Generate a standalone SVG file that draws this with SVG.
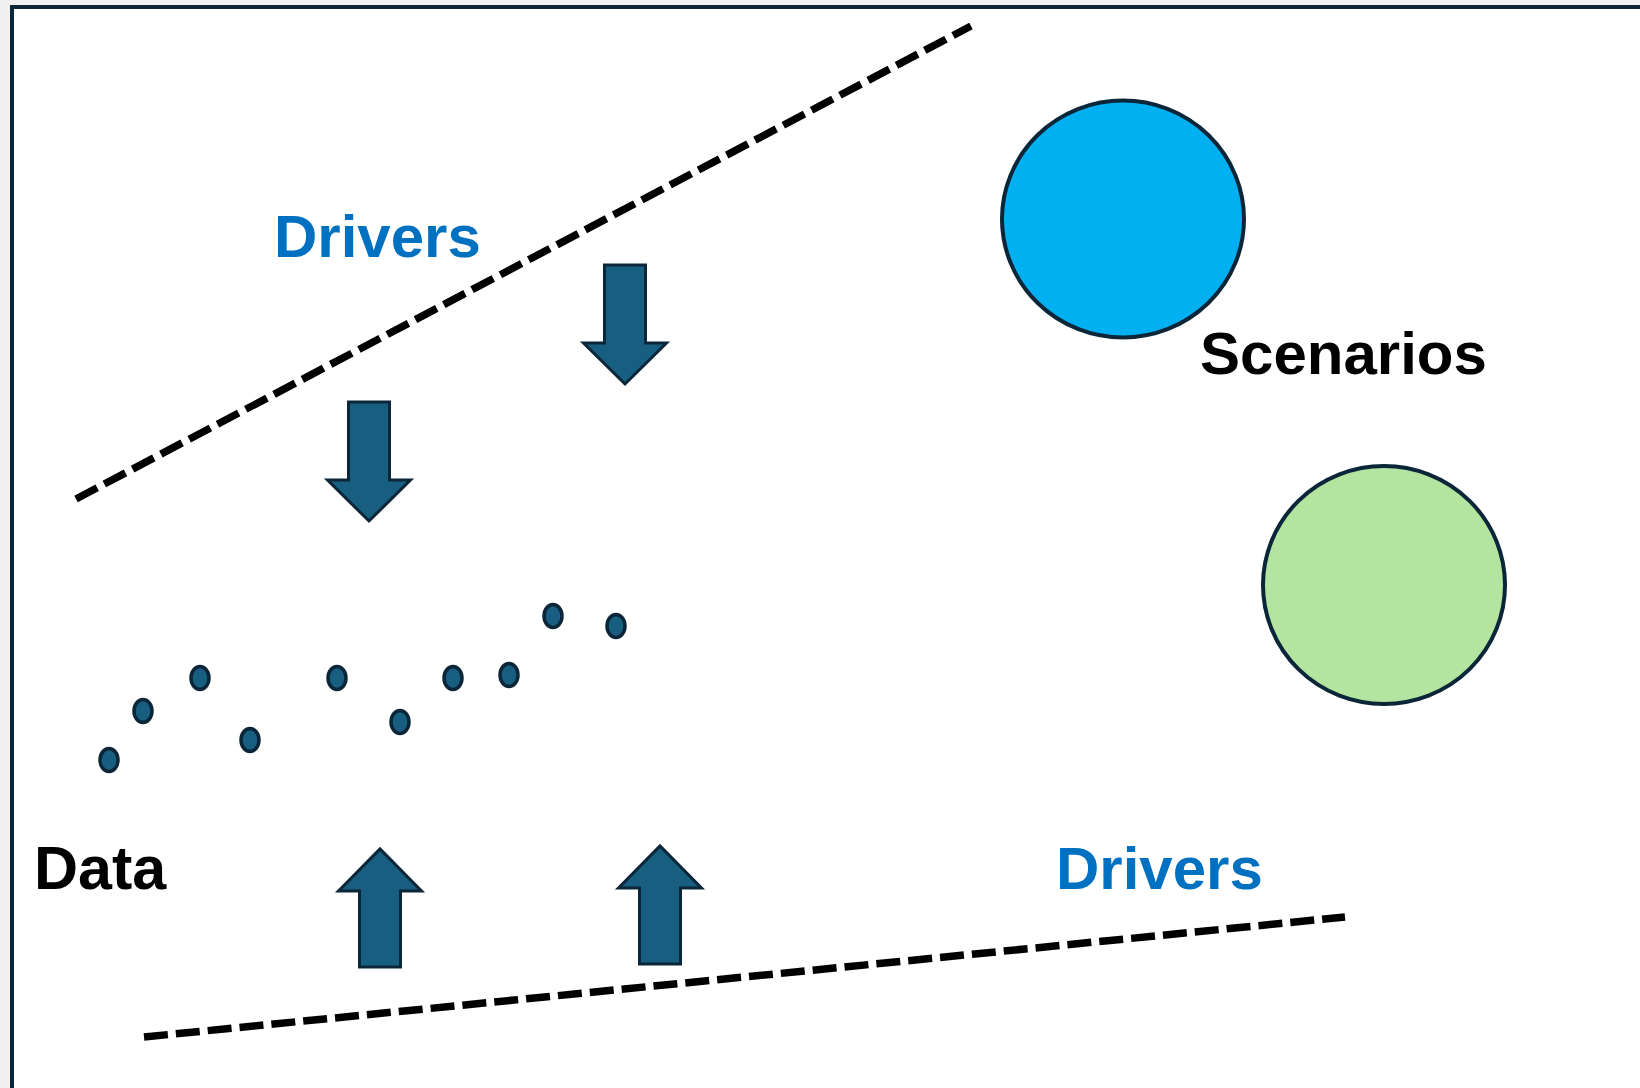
<svg xmlns="http://www.w3.org/2000/svg" width="1640" height="1088" viewBox="0 0 1640 1088">
  <style>
    .label { font-family: "Liberation Sans", Arial, sans-serif; font-weight: bold; font-size: 60px; }
    .drivers { fill: #0070C0; }
    .dark { fill: #000000; }
    .guide { fill: none; stroke: #000000; stroke-width: 7.5; stroke-dasharray: 24 8; }
    .arrow { fill: #175E80; stroke: #0B2638; stroke-width: 3; stroke-linejoin: miter; }
    .dot { fill: #175E80; stroke: #0B2638; stroke-width: 3.5; }
    .scenario { stroke: #0B2638; stroke-width: 4; }
  </style>
  <defs>
    <!-- block arrow pointing down, origin at shaft top centre -->
    <path id="downArrow" d="M -20.5 0 H 20.5 V 78 H 41.5 L 0 119 L -41.5 78 H -20.5 Z"/>
    <!-- block arrow pointing up, origin at shaft bottom centre -->
    <path id="upArrow" d="M -20.5 0 H 20.5 V -76 H 41.5 L 0 -118 L -41.5 -76 H -20.5 Z"/>
  </defs>

  <!-- page background and frame -->
  <rect x="0" y="0" width="1640" height="1088" fill="#F0F0F0"/>
  <rect x="12" y="7" width="1660" height="1120" fill="#FFFFFF" stroke="#0B2638" stroke-width="4"/>

  <!-- dashed boundary lines -->
  <g id="connectors">
    <line class="guide" x1="76" y1="499" x2="971" y2="26"/>
    <line class="guide" x1="144" y1="1037" x2="1345" y2="917"/>
  </g>

  <!-- labels -->
  <g id="label-drivers-top"><text class="label drivers" x="274" y="257">Drivers</text></g>
  <g id="label-drivers-bottom"><text class="label drivers" x="1056" y="889">Drivers</text></g>
  <g id="label-scenarios"><text class="label dark" x="1200" y="374">Scenarios</text></g>
  <g id="label-data"><text class="label dark" x="34" y="889" style="font-size:61px">Data</text></g>

  <!-- scenario circles -->
  <g id="scenario-blue"><ellipse class="scenario" cx="1123" cy="219" rx="121" ry="118.5" fill="#00B0F0"/></g>
  <g id="scenario-green"><ellipse class="scenario" cx="1384" cy="585" rx="121" ry="119" fill="#B3E5A1"/></g>

  <!-- driver arrows -->
  <g id="arrow-down-right"><use href="#downArrow" class="arrow" x="625" y="265"/></g>
  <g id="arrow-down-left"><use href="#downArrow" class="arrow" x="369" y="402"/></g>
  <g id="arrow-up-left"><use href="#upArrow" class="arrow" x="380" y="967"/></g>
  <g id="arrow-up-right"><use href="#upArrow" class="arrow" x="660" y="964"/></g>

  <!-- data points -->
  <g id="data-points">
    <ellipse class="dot" cx="109" cy="760" rx="9" ry="11.5"/>
    <ellipse class="dot" cx="143" cy="711" rx="9" ry="11.5"/>
    <ellipse class="dot" cx="200" cy="678" rx="9" ry="11.5"/>
    <ellipse class="dot" cx="250" cy="740" rx="9" ry="11.5"/>
    <ellipse class="dot" cx="337" cy="678" rx="9" ry="11.5"/>
    <ellipse class="dot" cx="400" cy="722" rx="9" ry="11.5"/>
    <ellipse class="dot" cx="453" cy="678" rx="9" ry="11.5"/>
    <ellipse class="dot" cx="509" cy="675" rx="9" ry="11.5"/>
    <ellipse class="dot" cx="553" cy="616" rx="9" ry="11.5"/>
    <ellipse class="dot" cx="616" cy="626" rx="9" ry="11.5"/>
  </g>
</svg>
